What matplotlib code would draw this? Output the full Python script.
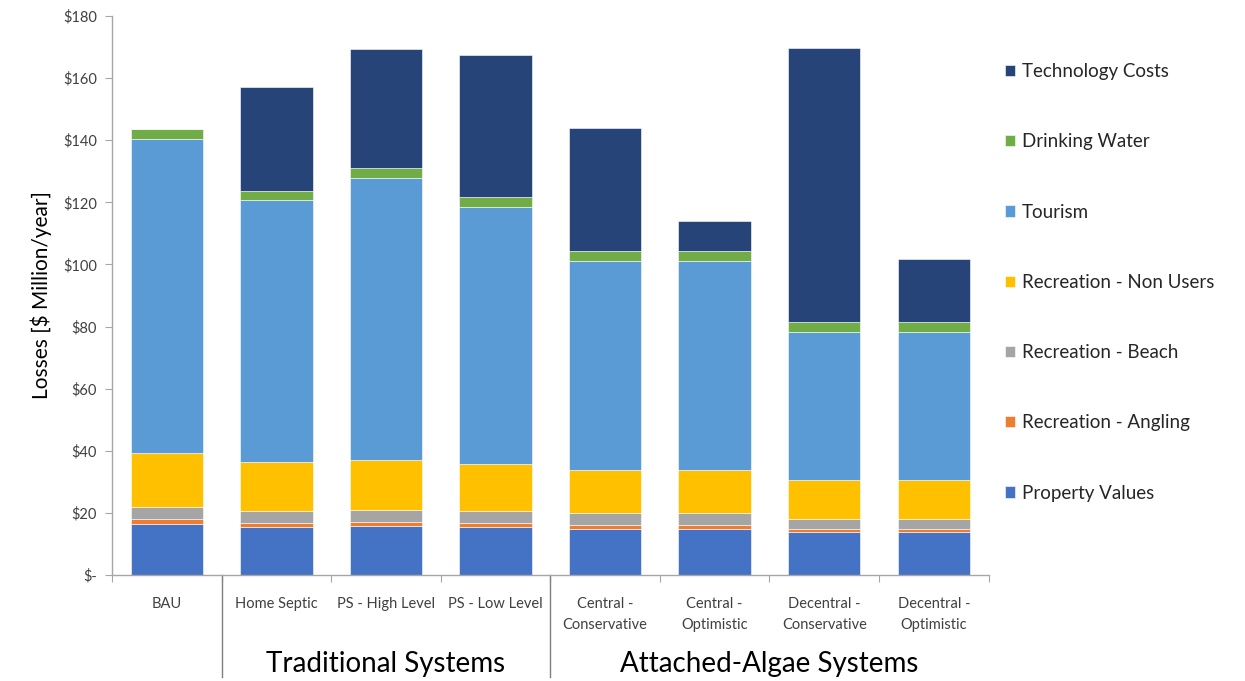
import matplotlib
matplotlib.use("Agg")
import matplotlib.pyplot as plt
import numpy as np
from matplotlib.lines import Line2D

plt.rcParams['font.family'] = ['Lato', 'DejaVu Sans']

categories = ["BAU", "Home Septic", "PS - High Level", "PS - Low Level",
              "Central -\nConservative", "Central -\nOptimistic",
              "Decentral -\nConservative", "Decentral -\nOptimistic"]

property_values = [16.4, 15.6, 15.8, 15.6, 14.8, 14.8, 13.7, 13.7]
recreation_angling = [1.5, 1.1, 1.2, 1.1, 1.2, 1.2, 1.2, 1.2]
recreation_beach = [4.1, 3.9, 3.8, 3.9, 3.9, 3.9, 3.2, 3.2]
recreation_non_users = [17.3, 15.7, 16.2, 15.2, 13.9, 13.9, 12.4, 12.4]
tourism = [101.1, 84.4, 90.7, 82.7, 67.4, 67.4, 47.8, 47.8]
drinking_water = [3.2, 2.9, 3.3, 3.2, 3.1, 3.1, 3.1, 3.1]
technology_costs = [0.0, 33.5, 38.5, 45.9, 39.5, 9.7, 88.4, 20.3]

series_names = ["Property Values", "Recreation - Angling", "Recreation - Beach",
                "Recreation - Non Users", "Tourism", "Drinking Water",
                "Technology Costs"]
series_values = [property_values, recreation_angling, recreation_beach,
                 recreation_non_users, tourism, drinking_water, technology_costs]
series_colors = ["#4472C4", "#ED7D31", "#A5A5A5", "#FFC000", "#5B9BD5",
                 "#70AD47", "#264478"]

groups = ["Traditional Systems", "Attached-Algae Systems"]
yticks = [0, 20, 40, 60, 80, 100, 120, 140, 160, 180]
ytick_labels = ["$-", "$20", "$40", "$60", "$80", "$100", "$120", "$140",
                "$160", "$180"]

fig = plt.figure(figsize=(12.45, 6.81), dpi=100)
ax = fig.add_axes([0.090, 0.1557, 0.704, 0.8208])

x = np.arange(len(categories))
bottom = np.zeros(len(categories))
handles = []
for name, vals, col in zip(series_names, series_values, series_colors):
    vals = np.array(vals)
    bars = ax.bar(x, vals, width=0.66, bottom=bottom, color=col,
                  edgecolor="white", linewidth=0.4, label=name)
    handles.append(bars)
    bottom += vals

ax.set_xlim(-0.5, len(categories) - 0.5)
ax.set_ylim(0, 180)
ax.set_yticks(yticks)
ax.set_yticklabels(ytick_labels, fontsize=10.5, color="#404040")
ax.set_ylabel("Losses [$ Million/year]", fontsize=15, color="#000000",
              labelpad=8)

# category labels, ticks at category boundaries
ax.set_xticks(np.arange(-0.5, len(categories), 1.0))
ax.set_xticklabels([])
ax.set_xticks(x, minor=True)
ax.set_xticklabels(categories, minor=True, fontsize=10.5, color="#404040",
                   va="top", linespacing=1.6)
ax.tick_params(axis="x", which="minor", length=0, pad=16)
ax.tick_params(axis="x", which="major", length=5, color="#a6a6a6")
ax.tick_params(axis="y", length=5, color="#a6a6a6", pad=6)

for s in ["top", "right"]:
    ax.spines[s].set_visible(False)
for s in ["left", "bottom"]:
    ax.spines[s].set_color("#a6a6a6")
    ax.spines[s].set_linewidth(1.0)

# group separators below the axis
trans = ax.get_xaxis_transform()
for xs in [0.5, 3.5]:
    ax.add_line(Line2D([xs, xs], [0, -0.182], transform=trans, color="#7f7f7f",
                       linewidth=1.0, clip_on=False))
ax.text(2.0, -0.16, groups[0], transform=trans, ha="center", va="center",
        fontsize=20, color="#000000")
ax.text(5.5, -0.16, groups[1], transform=trans, ha="center", va="center",
        fontsize=20, color="#000000")

leg = fig.legend(handles[::-1], series_names[::-1], loc="upper left",
                 bbox_to_anchor=(0.7935, 0.932), frameon=False, fontsize=13.5,
                 handlelength=0.55, handleheight=0.55, handletextpad=0.35,
                 labelspacing=2.84)
for t in leg.get_texts():
    t.set_color("#262626")

fig.savefig("out.png", dpi=100)
